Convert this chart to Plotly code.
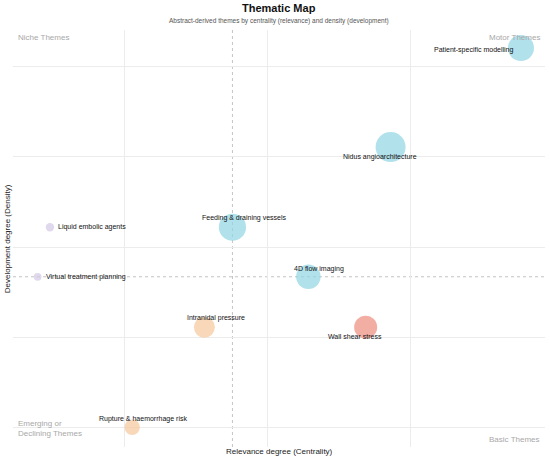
import numpy as np
import plotly.graph_objects as go

# Theme data
themes = [
    "Patient-specific modelling",
    "Nidus angioarchitecture",
    "Feeding & draining vessels",
    "Liquid embolic agents",
    "Virtual treatment planning",
    "4D flow imaging",
    "Intranidal pressure",
    "Wall shear stress",
    "Rupture & haemorrhage risk",
]
centrality = [1.885, 1.430, 0.878, 0.241, 0.198, 1.143, 0.780, 1.343, 0.528]
density = [4.21, 3.11, 2.22, 2.22, 1.67, 1.67, 1.11, 1.11, 0.00]
frequency = [68, 90, 74, 7, 6, 60, 44, 53, 24]
cluster = ["A", "A", "A", "B", "B", "A", "C", "D", "C"]

cluster_colors = {"A": "#90d4e2", "B": "#d3c7e4", "C": "#f7c89c", "D": "#ee8c7e"}

# label offsets in pixels (xshift, yshift, xanchor)
label_pos = [
    (-47, -2, "center"),
    (-11, -10, "center"),
    (12, 9, "center"),
    (6, 0, "left"),
    (6, 0, "left"),
    (11, 8, "center"),
    (12, 9, "center"),
    (-11, -9, "center"),
    (11, 8, "center"),
]

FONT = "Liberation Sans, Arial, sans-serif"

fig = go.Figure()

fig.add_trace(
    go.Scatter(
        x=centrality,
        y=density,
        mode="markers",
        marker=dict(
            size=frequency,
            sizemode="area",
            sizeref=0.2,
            color=[cluster_colors[c] for c in cluster],
            line=dict(width=0),
        ),
        text=themes,
        hovertemplate="%{text}<br>Centrality: %{x:.2f}<br>Density: %{y:.2f}<extra></extra>",
        showlegend=False,
    )
)

# median reference lines
fig.add_vline(x=float(np.median(centrality)), line_dash="3px,3px", line_color="#c4c4c4",
              line_width=1, layer="below")
fig.add_hline(y=float(np.median(density)), line_dash="3px,3px", line_color="#c4c4c4",
              line_width=1, layer="below")

for name, cx, cy, (dx, dy, anchor) in zip(themes, centrality, density, label_pos):
    fig.add_annotation(
        x=cx, y=cy, text=name, showarrow=False,
        xshift=dx, yshift=dy, xanchor=anchor, yanchor="middle",
        font=dict(size=7, color="#111111", family=FONT),
    )

# quadrant labels
quad_style = dict(showarrow=False, xref="paper", yref="paper",
                  font=dict(size=8, color="#a8a8a8", family=FONT))
fig.add_annotation(text="Niche Themes", x=0.005, y=0.983, xanchor="left", yanchor="middle", **quad_style)
fig.add_annotation(text="Motor Themes", x=0.995, y=0.983, xanchor="right", yanchor="middle", **quad_style)
fig.add_annotation(text="Emerging or<br>Declining Themes", x=0.005, y=0.045, xanchor="left",
                   yanchor="middle", align="left", **quad_style)
fig.add_annotation(text="Basic Themes", x=0.995, y=0.017, xanchor="right", yanchor="middle", **quad_style)

# axis titles
fig.add_annotation(text="Relevance degree (Centrality)", x=0.5, y=452, xref="paper", yref="paper",
                   showarrow=False, font=dict(size=8, color="#222222", family=FONT))
fig.add_annotation(text="Development degree (Density)", x=-0.01, y=0.5, xref="paper", yref="paper",
                   showarrow=False, textangle=-90, xanchor="center",
                   font=dict(size=8, color="#222222", family=FONT))

# title + subtitle
fig.add_annotation(text="<b>Thematic Map</b>", x=0.5, y=8, xref="paper", yref="paper",
                   showarrow=False, font=dict(size=11, color="#111111", family=FONT))
fig.add_annotation(text="Abstract-derived themes by centrality (relevance) and density (development)",
                   x=0.5, y=21, xref="paper", yref="paper", showarrow=False,
                   font=dict(size=6.5, color="#555555", family=FONT))

# convert pixel-y positions for the header/footer annotations into paper coords
plot_top, plot_bottom = 30, 447
for ann in fig.layout.annotations:
    if ann.xref == "paper" and ann.yref == "paper" and ann.y is not None and ann.y > 2:
        ann.y = (plot_bottom - ann.y) / (plot_bottom - plot_top)
        ann.yanchor = "middle"

fig.update_xaxes(range=[0.112, 1.969], dtick=0.5, tick0=0, showgrid=True, gridcolor="#ececec",
                 gridwidth=1, zeroline=False, showticklabels=False, showline=False, ticks="")
fig.update_yaxes(range=[-0.22, 4.41], dtick=1, tick0=0, showgrid=True, gridcolor="#ececec",
                 gridwidth=1, zeroline=False, showticklabels=False, showline=False, ticks="")

fig.update_layout(
    width=550, height=459,
    margin=dict(l=13, r=5, t=30, b=12),
    plot_bgcolor="white",
    paper_bgcolor="white",
    font=dict(family=FONT),
)

fig.write_html("out.html", config={"displayModeBar": False},
               post_script="document.body.style.margin='0';")
